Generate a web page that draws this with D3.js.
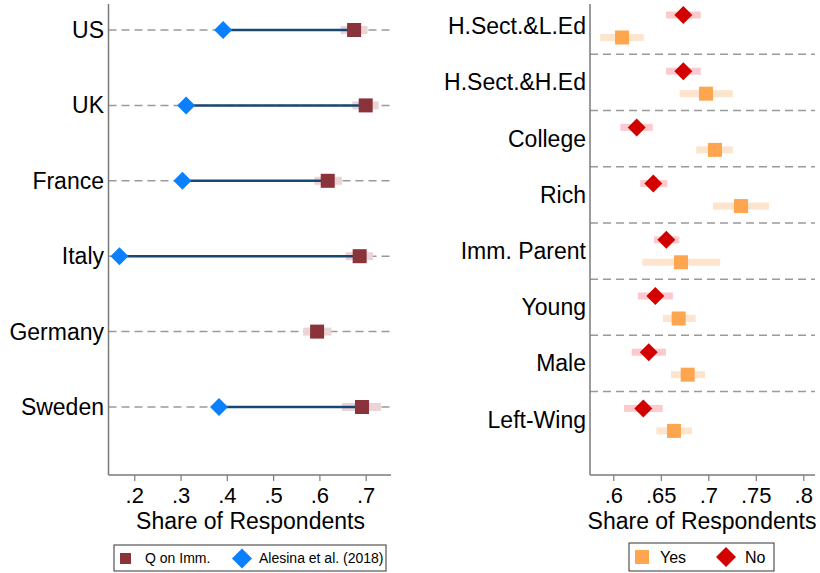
<!DOCTYPE html>
<html><head><meta charset="utf-8">
<script src="https://cdn.jsdelivr.net/npm/d3@7"></script>
<style>
body{margin:0;background:#fff;}
svg{display:block;font-family:"Liberation Sans",Arial,sans-serif;}
</style></head>
<body><svg id="c" width="820" height="573"></svg>
<script>
// ---- Left panel data ----
const countries = ["US","UK","France","Italy","Germany","Sweden"];
const qImm      = [0.675, 0.700, 0.618, 0.687, 0.595, 0.692];
const qImmLo    = [0.646, 0.671, 0.589, 0.657, 0.565, 0.649];
const qImmHi    = [0.704, 0.728, 0.649, 0.716, 0.626, 0.733];
const alesina   = [0.392, 0.312, 0.304, 0.168, null, 0.383];
const leftTicks = [0.2, 0.3, 0.4, 0.5, 0.6, 0.7];

// ---- Right panel data ----
const groups = ["H.Sect.&L.Ed","H.Sect.&H.Ed","College","Rich","Imm. Parent","Young","Male","Left-Wing"];
const noVal  = [0.6737, 0.6737, 0.6246, 0.6421, 0.6558, 0.6442, 0.6373, 0.6316];
const noLo   = [0.6555, 0.6555, 0.6074, 0.6284, 0.6428, 0.6257, 0.6194, 0.6113];
const noHi   = [0.6920, 0.6920, 0.6415, 0.6568, 0.6695, 0.6628, 0.6555, 0.6520];
const yesVal = [0.6092, 0.6976, 0.7070, 0.7344, 0.6713, 0.6688, 0.6783, 0.6639];
const yesLo  = [0.5863, 0.6699, 0.6874, 0.7050, 0.6305, 0.6523, 0.6607, 0.6453];
const yesHi  = [0.6320, 0.7257, 0.7257, 0.7639, 0.7126, 0.6867, 0.6965, 0.6828];
const rightTicks = [0.6, 0.65, 0.7, 0.75, 0.8];

const svg = d3.select("#c");
const fmt = v => d3.format(".2~f")(v).replace(/^0/, "");
const C = {
  axis:"#7a7a7a", grid:"#9a9a9a", maroon:"#8b333a", maroonCI:"#ead4d6",
  blue:"#0a80ff", navy:"#1a476f", orange:"#fea54f", orangeCI:"#fde4cc",
  red:"#d30000", redCI:"#fccace"
};
const diamond = s => `M0,${-s}L${s},0L0,${s}L${-s},0Z`;

// ================= LEFT PANEL =================
const L = {x0:108.5, x1:391, y0:4, y1:475};
const xL = d3.scaleLinear().domain([0.1443, 0.7547]).range([L.x0, L.x1]);
const yL = d3.scaleLinear().domain([0, countries.length-1]).range([30, 407]);
const gL = svg.append("g");

countries.forEach((c,i)=>{
  const y = yL(i);
  gL.append("line").attr("x1",L.x0).attr("x2",L.x1).attr("y1",y).attr("y2",y)
    .attr("stroke",C.grid).attr("stroke-width",1.5).attr("stroke-dasharray","8,5");
  gL.append("rect").attr("x",xL(qImmLo[i])).attr("y",y-4).attr("width",xL(qImmHi[i])-xL(qImmLo[i])).attr("height",8)
    .attr("fill",C.maroonCI);
  if (alesina[i]!=null){
    gL.append("line").attr("x1",xL(alesina[i])).attr("x2",xL(qImm[i])).attr("y1",y).attr("y2",y)
      .attr("stroke",C.navy).attr("stroke-width",2.5);
  }
  gL.append("rect").attr("x",xL(qImm[i])-7).attr("y",y-7).attr("width",14).attr("height",14).attr("fill",C.maroon);
  if (alesina[i]!=null){
    gL.append("path").attr("d",diamond(9)).attr("transform",`translate(${xL(alesina[i])},${y})`).attr("fill",C.blue);
  }
  gL.append("text").attr("x",104).attr("y",y).attr("dy","0.35em").attr("text-anchor","end")
    .attr("font-size",23).attr("fill","#000").text(c);
});
// axes
gL.append("line").attr("x1",L.x0).attr("x2",L.x0).attr("y1",L.y0).attr("y2",L.y1).attr("stroke",C.axis).attr("stroke-width",1.5);
const axL = gL.append("g").attr("transform",`translate(0,${L.y1})`)
  .call(d3.axisBottom(xL).tickValues(leftTicks).tickFormat(fmt).tickSize(6).tickPadding(6));
axL.select(".domain").attr("d",`M${L.x0},0H${L.x1}`).attr("stroke",C.axis).attr("stroke-width",1.5);
axL.selectAll(".tick line").attr("stroke",C.axis).attr("stroke-width",1.2);
axL.selectAll(".tick text").attr("font-size",22).attr("fill","#000").attr("font-family","Liberation Sans, Arial, sans-serif");
gL.append("text").attr("x",250.5).attr("y",529).attr("text-anchor","middle").attr("font-size",23).text("Share of Respondents");
// legend
const lgL = gL.append("g");
lgL.append("rect").attr("x",114).attr("y",545).attr("width",272).attr("height",26).attr("fill","#fff").attr("stroke","#333").attr("stroke-width",1);
lgL.append("rect").attr("x",120).attr("y",553).attr("width",11).attr("height",11).attr("fill",C.maroon);
lgL.append("text").attr("x",145).attr("y",558.5).attr("dy","0.35em").attr("font-size",14).text("Q on Imm.");
lgL.append("path").attr("d",diamond(10)).attr("transform","translate(242,558.5)").attr("fill",C.blue);
lgL.append("text").attr("x",259).attr("y",558.5).attr("dy","0.35em").attr("font-size",14).text("Alesina et al. (2018)");

// ================= RIGHT PANEL =================
const R = {x0:590, x1:815, y0:4, y1:475};
const xR = d3.scaleLinear().domain([0.57547, 0.81232]).range([R.x0, R.x1]);
const yR = d3.scaleLinear().domain([0, groups.length]).range([15, 15 + 56.2*groups.length]);
const gR = svg.append("g");

groups.forEach((g,i)=>{
  if (i < groups.length-1){
    const ys = yR(i+0.7);
    gR.append("line").attr("x1",R.x0).attr("x2",R.x1).attr("y1",ys).attr("y2",ys)
      .attr("stroke",C.grid).attr("stroke-width",1.5).attr("stroke-dasharray","8,5");
  }
  const yn = yR(i), yy = yR(i+0.4);
  gR.append("rect").attr("x",xR(noLo[i])).attr("y",yn-3.5).attr("width",xR(noHi[i])-xR(noLo[i])).attr("height",7).attr("fill",C.redCI);
  gR.append("rect").attr("x",xR(yesLo[i])).attr("y",yy-3.5).attr("width",xR(yesHi[i])-xR(yesLo[i])).attr("height",7).attr("fill",C.orangeCI);
  gR.append("path").attr("d",diamond(9)).attr("transform",`translate(${xR(noVal[i])},${yn})`).attr("fill",C.red);
  gR.append("rect").attr("x",xR(yesVal[i])-7).attr("y",yy-7).attr("width",14).attr("height",14).attr("fill",C.orange);
  gR.append("text").attr("x",586).attr("y",yR(i+0.2)).attr("dy","0.35em").attr("text-anchor","end")
    .attr("font-size",23).text(g);
});
gR.append("line").attr("x1",R.x0).attr("x2",R.x0).attr("y1",R.y0).attr("y2",R.y1).attr("stroke",C.axis).attr("stroke-width",1.5);
const axR = gR.append("g").attr("transform",`translate(0,${R.y1})`)
  .call(d3.axisBottom(xR).tickValues(rightTicks).tickFormat(fmt).tickSize(6).tickPadding(6));
axR.select(".domain").attr("d",`M${R.x0},0H${R.x1}`).attr("stroke",C.axis).attr("stroke-width",1.5);
axR.selectAll(".tick line").attr("stroke",C.axis).attr("stroke-width",1.2);
axR.selectAll(".tick text").attr("font-size",22).attr("fill","#000").attr("font-family","Liberation Sans, Arial, sans-serif");
gR.append("text").attr("x",702).attr("y",529).attr("text-anchor","middle").attr("font-size",23).text("Share of Respondents");
const lgR = gR.append("g");
lgR.append("rect").attr("x",629).attr("y",543).attr("width",145).attr("height",28).attr("fill","#fff").attr("stroke","#333").attr("stroke-width",1);
lgR.append("rect").attr("x",635).attr("y",550).attr("width",14).attr("height",14).attr("fill",C.orange);
lgR.append("text").attr("x",660).attr("y",557).attr("dy","0.35em").attr("font-size",16).text("Yes");
lgR.append("path").attr("d",diamond(10)).attr("transform","translate(726,557)").attr("fill",C.red);
lgR.append("text").attr("x",745).attr("y",557).attr("dy","0.35em").attr("font-size",16).text("No");
</script></body></html>
